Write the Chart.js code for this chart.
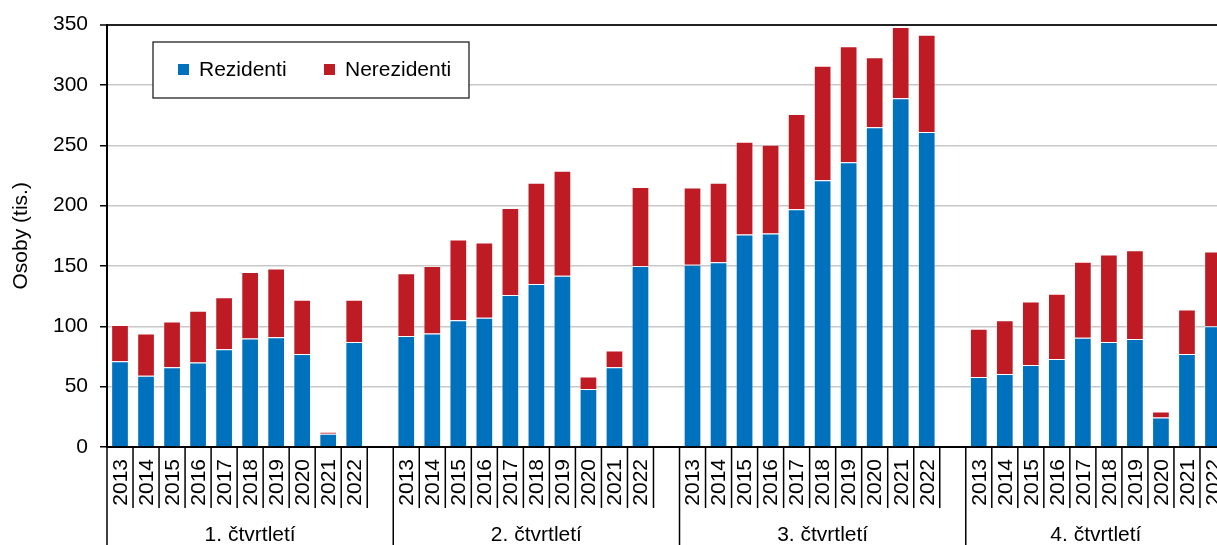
<!DOCTYPE html>
<html>
<head>
<meta charset="utf-8">
<script src="https://cdn.jsdelivr.net/npm/chart.js@4"></script>
<style>
  html, body { margin: 0; padding: 0; background: #fff; overflow: hidden; }
  canvas { display: block; }
</style>
</head>
<body>
<canvas id="graf" width="1228" height="545"></canvas>
<script>
  // Data – osoby v tis., podle čtvrtletí a roku
  const ctvrtleti = ['1. čtvrtletí', '2. čtvrtletí', '3. čtvrtletí', '4. čtvrtletí'];
  const roky = ['2013', '2014', '2015', '2016', '2017', '2018', '2019', '2020', '2021', '2022'];

  const rezidentiQ1 = [71, 59, 66, 70, 81, 90, 91, 77, 11, 87];
  const rezidentiQ2 = [92, 94, 105, 107, 126, 135, 142, 48, 66, 150];
  const rezidentiQ3 = [151, 153, 176, 177, 197, 221, 236, 265, 289, 261];
  const rezidentiQ4 = [58, 60.5, 68, 73, 90.5, 87, 89.5, 24.5, 77, 100];

  const nerezidentiQ1 = [30, 35, 38, 43, 43, 55, 57, 45, 1.5, 35];
  const nerezidentiQ2 = [52, 56, 67, 62.5, 72, 84, 87, 10.5, 14, 65.5];
  const nerezidentiQ3 = [64, 66, 77, 73.5, 79, 95, 96, 58, 59, 80.5];
  const nerezidentiQ4 = [40, 44.5, 52.5, 54, 63, 72.5, 73.5, 5, 37, 62];

  const yMax = 350;
  const yStep = 50;

  const modra = '#0071BC';
  const cervena = '#BE1B24';
  const pismo = 'Arial, "Liberation Sans", sans-serif';
  const velikost = 21;

  // skládání popisků a hodnot (mezera mezi čtvrtletími)
  const rez = [rezidentiQ1, rezidentiQ2, rezidentiQ3, rezidentiQ4];
  const nerez = [nerezidentiQ1, nerezidentiQ2, nerezidentiQ3, nerezidentiQ4];
  const popisky = [], dataRez = [], dataNerez = [], skupiny = [];
  ctvrtleti.forEach((q, i) => {
    const start = popisky.length;
    roky.forEach((r, j) => {
      popisky.push(r);
      dataRez.push(rez[i][j]);
      dataNerez.push(nerez[i][j]);
    });
    if (i < ctvrtleti.length - 1) {
      popisky.push('');
      dataRez.push(null);
      dataNerez.push(null);
    }
    skupiny.push({ nazev: q, od: start, do: popisky.length - 1 });
  });

  // vlastní kreslení osy x (dvě úrovně) a legendy
  const osaPlugin = {
    id: 'osaPlugin',
    afterDraw(chart) {
      const c = chart.ctx;
      const xs = chart.scales.x;
      const area = chart.chartArea;
      const krok = xs.width / popisky.length;
      const dole = chart.height;

      c.save();
      c.strokeStyle = '#000';
      c.lineWidth = 1.5;
      c.fillStyle = '#000';
      c.font = velikost + 'px ' + pismo;

      popisky.forEach((p, i) => {
        const stred = xs.getPixelForValue(i);
        const levy = stred - krok / 2;
        const dlouha = p === roky[0];
        c.beginPath();
        c.moveTo(levy, area.bottom);
        c.lineTo(levy, dlouha ? dole : area.bottom + 61);
        c.stroke();
        if (p) {
          c.save();
          c.translate(stred, area.bottom + 12);
          c.rotate(-Math.PI / 2);
          c.textAlign = 'right';
          c.textBaseline = 'middle';
          c.fillText(p, 0, 1);
          c.restore();
        }
      });

      c.textAlign = 'center';
      c.textBaseline = 'alphabetic';
      skupiny.forEach(s => {
        const x1 = xs.getPixelForValue(s.od) - krok / 2;
        const x2 = xs.getPixelForValue(s.do) + krok / 2;
        c.fillText(s.nazev, (x1 + x2) / 2, 541);
      });

      // legenda
      c.fillStyle = '#fff';
      c.fillRect(153, 42, 316, 56);
      c.strokeStyle = '#222';
      c.lineWidth = 1.3;
      c.strokeRect(153, 42, 316, 56);
      const polozky = [
        { text: chart.data.datasets[0].label, barva: modra, x: 178 },
        { text: chart.data.datasets[1].label, barva: cervena, x: 324 }
      ];
      c.textAlign = 'left';
      c.textBaseline = 'middle';
      polozky.forEach(p => {
        c.fillStyle = p.barva;
        c.fillRect(p.x, 64, 11, 11);
        c.fillStyle = '#000';
        c.fillText(p.text, p.x + 21, 70);
      });
      c.restore();
    }
  };

  const ctx = document.getElementById('graf');
  new Chart(ctx, {
    type: 'bar',
    data: {
      labels: popisky,
      datasets: [
        {
          label: 'Rezidenti',
          data: dataRez,
          backgroundColor: modra,
          borderColor: 'rgba(255,255,255,0.3)',
          borderWidth: 1,
          barPercentage: 0.68,
          categoryPercentage: 1
        },
        {
          label: 'Nerezidenti',
          data: dataNerez,
          backgroundColor: cervena,
          borderColor: 'rgba(255,255,255,0.3)',
          borderWidth: 1,
          barPercentage: 0.68,
          categoryPercentage: 1
        }
      ]
    },
    options: {
      responsive: false,
      animation: false,
      layout: { padding: { top: 23, right: 2, left: 0, bottom: 0 } },
      plugins: {
        legend: { display: false },
        tooltip: { enabled: false }
      },
      scales: {
        x: {
          stacked: true,
          offset: true,
          grid: { display: false },
          ticks: { display: false },
          border: { color: '#000', width: 2 },
          afterFit(s) { s.height = 98; }
        },
        y: {
          stacked: true,
          min: 0,
          max: yMax,
          ticks: {
            stepSize: yStep,
            color: '#000',
            padding: 12,
            font: { size: velikost, family: pismo }
          },
          grid: {
            color: c => c.tick.value === yMax ? '#222' : (c.tick.value === 0 ? '#000' : '#c8c8c8'),
            lineWidth: c => c.tick.value === yMax ? 2 : 1.5,
            tickColor: '#000',
            tickLength: 7,
            tickWidth: 1.5
          },
          border: { color: '#000', width: 2 },
          title: {
            display: true,
            text: 'Osoby (tis.)',
            color: '#000',
            font: { size: velikost, family: pismo },
            padding: { top: 9, bottom: 0 }
          },
          afterFit(s) { s.width = 107; }
        }
      }
    },
    plugins: [osaPlugin]
  });
</script>
</body>
</html>
